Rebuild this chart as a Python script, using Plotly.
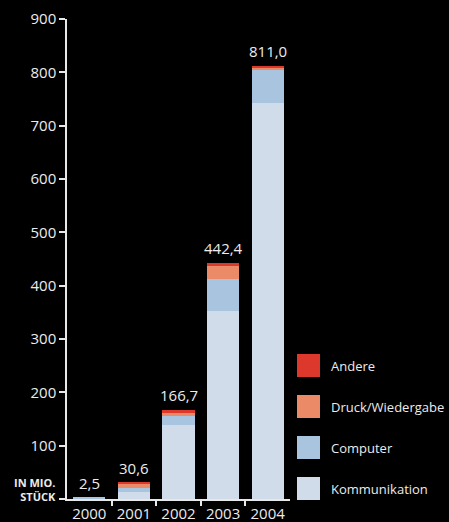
import plotly.graph_objects as go

# Stückzahlen in Millionen, gestapelt nach Anwendungsbereich
years = ["2000", "2001", "2002", "2003", "2004"]
kommunikation = [1.2, 12.6, 139.0, 353.0, 743.0]
computer = [1.3, 7.6, 17.0, 59.5, 61.5]
druck = [0.0, 9.4, 7.0, 24.4, 4.3]
andere = [0.0, 1.0, 3.7, 5.5, 2.2]
totals = [2.5, 30.6, 166.7, 442.4, 811.0]
y_ticks = [0, 100, 200, 300, 400, 500, 600, 700, 800, 900]
y_labels = ["", "100", "200", "300", "400", "500", "600", "700", "800", "900"]

series = [
    ("Kommunikation", kommunikation, "#d0dcea"),
    ("Computer", computer, "#a9c4de"),
    ("Druck/Wiedergabe", druck, "#eb8a67"),
    ("Andere", andere, "#dc392c"),
]

FONT = "Open Sans"
TXT = "#ececec"
LINE = "#e8e8e8"

W, H = 449, 522
L, R, T, B = 67, 159, 19, 23
PW, PH = W - L - R, H - T - B

# Säulenpositionen: eine Stelle je Jahr, Teilstriche zwischen den Jahren
pos = list(range(len(years)))
bounds = [p + 0.5 for p in pos[:-1]]
x_range = [-0.5, len(years) - 0.5]


def px_x(x):
    """Pixel column -> paper x."""
    return (x - L) / PW


def px_y(y):
    """Pixel row (from top) -> paper y."""
    return (H - B - y) / PH


fig = go.Figure()
for name, vals, col in series:
    fig.add_trace(go.Bar(
        x=pos, y=vals, name=name,
        marker=dict(color=col, line=dict(width=0)),
        showlegend=False,
    ))

# Summen über den Säulen
for p, tot in zip(pos, totals):
    fig.add_annotation(
        x=p, y=tot, xref="x", yref="y",
        text=f"{tot:.1f}".replace(".", ","),
        showarrow=False, yanchor="bottom", yshift=3,
        font=dict(family=FONT, size=15, color=TXT),
    )

# Einheit links unten
fig.add_annotation(
    x=px_x(58), y=px_y(489), xref="paper", yref="paper",
    text="<b>IN MIO.<br>STÜCK</b>", showarrow=False,
    font=dict(family=FONT, size=11, color=TXT),
    align="right", xanchor="right", yanchor="middle",
)

# Legende als Farbfelder mit Beschriftung
for i, (name, _, col) in enumerate(reversed(series)):
    top = 354 + i * 41
    fig.add_shape(
        type="rect", xref="paper", yref="paper",
        x0=px_x(297), x1=px_x(320), y0=px_y(top + 23), y1=px_y(top),
        fillcolor=col, line=dict(width=0),
    )
    fig.add_annotation(
        x=px_x(329), y=px_y(top + 11.5), xref="paper", yref="paper",
        text=name, showarrow=False, xanchor="left", yanchor="middle",
        font=dict(family=FONT, size=13, color=TXT),
    )

fig.update_layout(
    width=W, height=H,
    margin=dict(l=L, r=R, t=T, b=B, pad=0, autoexpand=False),
    paper_bgcolor="#000000", plot_bgcolor="#000000",
    barmode="stack", bargap=0.28,
    font=dict(family=FONT, color=TXT),
    xaxis=dict(
        range=x_range,
        tickmode="array", tickvals=pos, ticktext=years,
        showgrid=False, zeroline=False,
        showline=True, linecolor=LINE, linewidth=1.5,
        ticks="", tickangle=0,
        tickfont=dict(family=FONT, size=15, color=TXT),
        fixedrange=True,
    ),
    # zweite Achse nur für die Teilstriche zwischen den Jahren
    xaxis2=dict(
        overlaying="x", anchor="y", side="bottom", range=x_range,
        tickmode="array", tickvals=bounds, showticklabels=False,
        ticks="outside", ticklen=6, tickcolor=LINE, tickwidth=1.5,
        showgrid=False, zeroline=False, showline=False,
        fixedrange=True,
    ),
    yaxis=dict(
        range=[0, 900], tickmode="array", tickvals=y_ticks, ticktext=y_labels,
        showgrid=False, zeroline=False,
        showline=True, linecolor=LINE, linewidth=1.5,
        ticks="outside", ticklen=6, tickcolor=LINE, tickwidth=1.5,
        tickfont=dict(family=FONT, size=15, color=TXT),
        fixedrange=True,
    ),
)

# unsichtbare Spur, damit die zweite x-Achse gezeichnet wird
fig.add_trace(go.Scatter(
    x=x_range, y=[0, 0], xaxis="x2", yaxis="y", mode="lines",
    line=dict(width=0), showlegend=False, hoverinfo="skip",
))

fig.write_html("out.html", config={"displayModeBar": False})
